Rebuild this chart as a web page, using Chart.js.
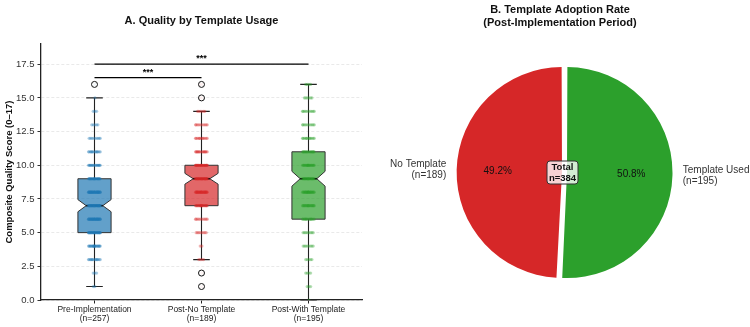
<!DOCTYPE html>
<html><head><meta charset="utf-8">
<script src="https://cdn.jsdelivr.net/npm/chart.js@4.4.0/dist/chart.umd.min.js"></script>
<style>
html,body{margin:0;padding:0;background:#fff;}
#wrap{position:relative;width:750px;height:327px;overflow:hidden;}
canvas{position:absolute;top:0;}
#c1{left:0;}
#c2{left:375px;}
</style></head><body>
<div id="wrap">
<canvas id="c1" width="375" height="327"></canvas>
<canvas id="c2" width="375" height="327"></canvas>
</div>
<script>
// ---------- Data ----------
const groups = ['Pre-Implementation', 'Post-No Template', 'Post-With Template'];
const groupN = [257, 189, 195];
const q1 = [5, 7, 6];
const median = [7, 9, 9];
const q3 = [9, 10, 11];
const whiskerLow = [1, 3, 0];
const whiskerHigh = [15, 14, 16];
const notchLow = [6.55, 8.6, 8.45];
const notchHigh = [7.45, 9.4, 9.55];
const outliers = [[16], [15, 16, 2, 1], []];
const scoreLevels = [0, 1, 2, 3, 4, 5, 6, 7, 8, 9, 10, 11, 12, 13, 14, 15, 16];
const preCounts  = [0, 2, 3, 14, 22, 30, 33, 38, 36, 28, 18, 14, 9, 5, 3, 1, 1];
const noCounts   = [0, 1, 1, 4, 2, 8, 10, 22, 28, 35, 30, 16, 12, 10, 6, 2, 2];
const withCounts = [1, 3, 4, 5, 8, 8, 14, 20, 24, 26, 22, 18, 12, 10, 10, 6, 4];
const yTicks = [0, 2.5, 5, 7.5, 10, 12.5, 15, 17.5];
const sigPairs = [[0, 1], [0, 2]];
const sigHeights = [16.5, 17.5];
const sigLabels = ['***', '***'];

const pieLabels = ['Template Used', 'No Template'];
const pieValues = [195, 189];

// ---------- Styles ----------
const FONT = "'Liberation Sans', Arial, Helvetica, sans-serif";
const dotColors = ['rgba(31,119,180,0.35)', 'rgba(214,39,40,0.35)', 'rgba(44,160,44,0.35)'];
const boxFill = ['rgba(31,119,180,0.7)', 'rgba(214,39,40,0.7)', 'rgba(44,160,44,0.7)'];
const pieColors = ['#2ca02c', '#d62728'];
const JITTER = [0.004, -0.012, 0.02, -0.026, 0.032, -0.038, 0.044, -0.05, 0.054, -0.056,
  0.012, -0.018, 0.026, -0.032, 0.038, -0.044, 0.048, -0.006, 0.0, -0.002];

function jitterPoints(g, counts) {
  const pts = [];
  counts.forEach((c, li) => {
    for (let k = 0; k < c; k++) pts.push({x: g + JITTER[k % JITTER.length], y: scoreLevels[li]});
  });
  return pts;
}
const allCounts = [preCounts, noCounts, withCounts];

const datasets = allCounts.map((c, g) => ({
  type: 'scatter', data: jitterPoints(g, c), pointRadius: 1.6, pointHoverRadius: 1.6,
  backgroundColor: dotColors[g], borderWidth: 0, order: 2
}));
datasets.push({
  type: 'scatter',
  data: outliers.flatMap((arr, g) => arr.map(v => ({x: g, y: v}))),
  pointRadius: 3, pointHoverRadius: 3, backgroundColor: 'rgba(255,255,255,0.85)',
  borderColor: '#111', borderWidth: 1, order: 1
});

const boxPlugin = {
  id: 'boxes',
  beforeDatasetsDraw(chart) {
    const {ctx, scales: {x, y}} = chart;
    const hw = 0.155;
    ctx.save();
    groups.forEach((g, i) => {
      const cx = x.getPixelForValue(i);
      const l = x.getPixelForValue(i - hw), r = x.getPixelForValue(i + hw);
      const nl = x.getPixelForValue(i - hw / 2), nr = x.getPixelForValue(i + hw / 2);
      // whiskers
      ctx.strokeStyle = '#222'; ctx.lineWidth = 1.1;
      ctx.beginPath();
      ctx.moveTo(cx, y.getPixelForValue(q3[i])); ctx.lineTo(cx, y.getPixelForValue(whiskerHigh[i]));
      ctx.moveTo(cx, y.getPixelForValue(q1[i])); ctx.lineTo(cx, y.getPixelForValue(whiskerLow[i]));
      ctx.moveTo(nl, y.getPixelForValue(whiskerHigh[i])); ctx.lineTo(nr, y.getPixelForValue(whiskerHigh[i]));
      ctx.moveTo(nl, y.getPixelForValue(whiskerLow[i])); ctx.lineTo(nr, y.getPixelForValue(whiskerLow[i]));
      ctx.stroke();
      // notched box
      const yq1 = y.getPixelForValue(q1[i]), yq3 = y.getPixelForValue(q3[i]);
      const ynl = y.getPixelForValue(notchLow[i]), ynh = y.getPixelForValue(notchHigh[i]);
      const ym = y.getPixelForValue(median[i]);
      ctx.beginPath();
      ctx.moveTo(l, yq1); ctx.lineTo(l, ynl); ctx.lineTo(nl, ym); ctx.lineTo(l, ynh); ctx.lineTo(l, yq3);
      ctx.lineTo(r, yq3); ctx.lineTo(r, ynh); ctx.lineTo(nr, ym); ctx.lineTo(r, ynl); ctx.lineTo(r, yq1);
      ctx.closePath();
      ctx.fillStyle = boxFill[i]; ctx.fill();
      ctx.strokeStyle = '#333'; ctx.lineWidth = 1; ctx.stroke();
      // median
      ctx.beginPath(); ctx.strokeStyle = '#000'; ctx.lineWidth = 1.6;
      ctx.moveTo(nl, ym); ctx.lineTo(nr, ym); ctx.stroke();
    });
    ctx.restore();
  },
  afterDatasetsDraw(chart) {
    const {ctx, scales: {x, y}} = chart;
    ctx.save();
    sigPairs.forEach((p, k) => {
      const x1 = x.getPixelForValue(p[0]), x2 = x.getPixelForValue(p[1]);
      const yy = y.getPixelForValue(sigHeights[k]);
      ctx.strokeStyle = '#000'; ctx.lineWidth = 1.2;
      ctx.beginPath(); ctx.moveTo(x1, yy); ctx.lineTo(x2, yy); ctx.stroke();
      ctx.fillStyle = '#000'; ctx.font = 'bold 9px ' + FONT;
      ctx.textAlign = 'center'; ctx.textBaseline = 'alphabetic';
      ctx.fillText(sigLabels[k], (x1 + x2) / 2, yy - 3);
    });
    ctx.restore();
  },
  afterDraw(chart) {
    const {ctx, chartArea} = chart;
    ctx.save();
    ctx.fillStyle = '#111'; ctx.font = 'bold 11px ' + FONT;
    ctx.textAlign = 'center'; ctx.textBaseline = 'middle';
    ctx.fillText('A. Quality by Template Usage', (chartArea.left + chartArea.right) / 2, 21);
    ctx.restore();
  }
};

new Chart(document.getElementById('c1'), {
  type: 'scatter',
  data: {datasets},
  options: {
    responsive: false, animation: false, devicePixelRatio: 1,
    layout: {padding: {left: 0, right: 13, top: 44, bottom: 0}},
    plugins: {legend: {display: false}, tooltip: {enabled: false}},
    scales: {
      x: {
        type: 'linear', min: -0.5, max: 2.5,
        afterBuildTicks: s => { s.ticks = groups.map((g, i) => ({value: i})); },
        afterFit: s => { s.height = 27; },
        ticks: {
          callback: v => [groups[v], '(n=' + groupN[v] + ')'],
          font: {family: FONT, size: 8.5, lineHeight: 1.1}, color: '#222', padding: 1, maxRotation: 0
        },
        grid: {display: true, drawOnChartArea: false, drawTicks: true, tickLength: 3.5, tickColor: '#222', tickWidth: 1},
        border: {display: true, color: '#222', width: 1.3}
      },
      y: {
        min: 0, max: 19,
        afterBuildTicks: s => { s.ticks = yTicks.map(v => ({value: v})); },
        afterFit: s => { s.width = 41; },
        ticks: {callback: v => v.toFixed(1), font: {family: FONT, size: 9.5}, color: '#333', padding: 3},
        grid: {color: '#e3e3e3', lineWidth: 0.8, tickColor: '#333', tickLength: 3.5, tickWidth: 1},
        border: {display: true, color: '#222', width: 1.3, dash: [3, 2]},
        title: {display: true, text: 'Composite Quality Score (0–17)', font: {family: FONT, size: 9.5, weight: 'bold'}, color: '#111', padding: {top: 4, bottom: 0}}
      }
    }
  },
  plugins: [boxPlugin]
});

// ---------- Pie ----------
const pieTotal = pieValues.reduce((a, b) => a + b, 0);
const piePlugin = {
  id: 'pieText',
  afterDraw(chart) {
    const {ctx} = chart;
    const meta = chart.getDatasetMeta(0);
    ctx.save();
    ctx.fillStyle = '#111'; ctx.font = 'bold 11px ' + FONT;
    ctx.textAlign = 'center'; ctx.textBaseline = 'middle';
    ctx.fillText('B. Template Adoption Rate', 185, 10);
    ctx.fillText('(Post-Implementation Period)', 185, 23);
    let cx = 0, cy = 0;
    meta.data.forEach((arc, i) => {
      const p = arc.getProps(['x', 'y', 'startAngle', 'endAngle', 'outerRadius']);
      cx = p.x; cy = p.y;
      const mid = (p.startAngle + p.endAngle) / 2;
      const shift = 5;
      const r = p.outerRadius;
      const ox = p.x + Math.cos(mid) * shift, oy = p.y + Math.sin(mid) * shift;
      ctx.fillStyle = '#111'; ctx.font = '10px ' + FONT;
      ctx.textAlign = 'center'; ctx.textBaseline = 'middle';
      ctx.fillText((pieValues[i] / pieTotal * 100).toFixed(1) + '%', ox + Math.cos(mid) * r * 0.6, oy + Math.sin(mid) * r * 0.6);
      const lx = ox + Math.cos(mid) * r * 1.1, ly = oy + Math.sin(mid) * r * 1.1;
      ctx.fillStyle = '#333'; ctx.font = '10px ' + FONT;
      ctx.textAlign = Math.cos(mid) >= 0 ? 'left' : 'right';
      ctx.fillText(pieLabels[i], lx, ly - 5.5);
      ctx.fillText('(n=' + pieValues[i] + ')', lx, ly + 5.5);
    });
    const bw = 31, bh = 23, bx = cx - 2 - bw / 2, by = cy - bh / 2;
    ctx.beginPath();
    ctx.roundRect(bx, by, bw, bh, 3);
    ctx.fillStyle = 'rgba(255,255,255,0.8)'; ctx.fill();
    ctx.strokeStyle = '#333'; ctx.lineWidth = 1; ctx.stroke();
    ctx.fillStyle = '#111'; ctx.font = 'bold 9.5px ' + FONT;
    ctx.textAlign = 'center'; ctx.textBaseline = 'middle';
    ctx.fillText('Total', cx - 2, cy - 5);
    ctx.fillText('n=' + pieTotal, cx - 2, cy + 5.5);
    ctx.restore();
  }
};

new Chart(document.getElementById('c2'), {
  type: 'pie',
  data: {
    labels: pieLabels,
    datasets: [{data: pieValues, backgroundColor: pieColors, borderWidth: 0, offset: 10, radius: 103, hoverOffset: 0}]
  },
  options: {
    responsive: false, animation: false, devicePixelRatio: 1,
    layout: {padding: {left: 4, right: 0, top: 20, bottom: 2}},
    plugins: {legend: {display: false}, tooltip: {enabled: false}}
  },
  plugins: [piePlugin]
});
</script>
</body></html>
